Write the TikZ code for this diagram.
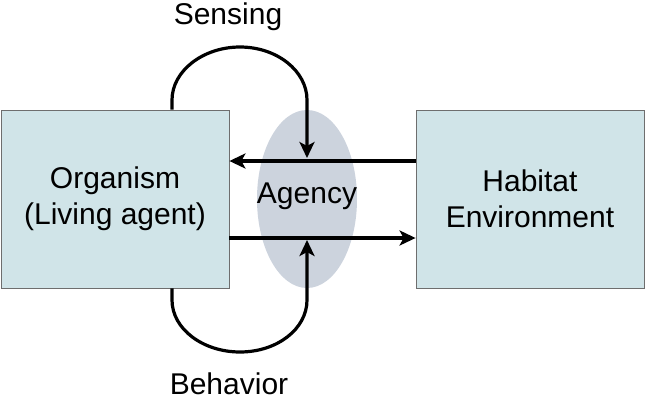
\documentclass[tikz,border=0pt]{standalone}
\usepackage{fontspec}
\setmainfont{Liberation Sans}
\usetikzlibrary{arrows.meta,shapes.geometric}
\definecolor{boxfill}{RGB}{208,228,232}
\definecolor{boxline}{RGB}{110,110,110}
\definecolor{ellfill}{RGB}{204,211,221}
\tikzset{
  x=1pt,y=-1pt,
  txt/.style={font=\fontsize{30}{36}\selectfont, align=center, inner sep=0pt},
  panel/.style={draw=boxline, line width=0.8pt, fill=boxfill, minimum width=228pt, minimum height=178pt, inner sep=0pt, font=\fontsize{30}{36}\selectfont, align=center},
  conn/.style={line width=3.2pt, -{Stealth[length=16pt,width=15pt,inset=4pt]}}
}
\begin{document}
\begin{tikzpicture}
\useasboundingbox (0,0) rectangle (646,400);
\node[panel] (org) at (115,199) {Organism\\(Living agent)};
\node[panel] (hab) at (530,199) {Habitat\\Environment};
\node[ellipse, fill=ellfill, minimum width=100pt, minimum height=178pt, inner sep=0pt] (ag) at (307,199) {};
\node[txt] (agt) at (307,196) {Agency};
\node[txt, anchor=base] (sens) at (228,24) {Sensing};
\node[txt, anchor=base, text depth=0pt] (beh) at (229,394) {Behavior};
\coordinate (stop) at (307,158);
\coordinate (btop) at (307,240);
\draw[conn] (hab.west |- 0,161) -- (org.east |- 0,161);
\draw[conn] (org.east |- 0,238) -- (hab.west |- 0,238);
\draw[conn] (org.north -| 172,0) -- (172,100) .. controls (172,71) and (203,47) .. (240,47) .. controls (277,47) and (307,71) .. (307,100) -- (stop);
\draw[conn] (org.south -| 172,0) -- (172,300) .. controls (172,329) and (203,352) .. (240,352) .. controls (277,352) and (307,329) .. (307,300) -- (btop);
\end{tikzpicture}
\end{document}
